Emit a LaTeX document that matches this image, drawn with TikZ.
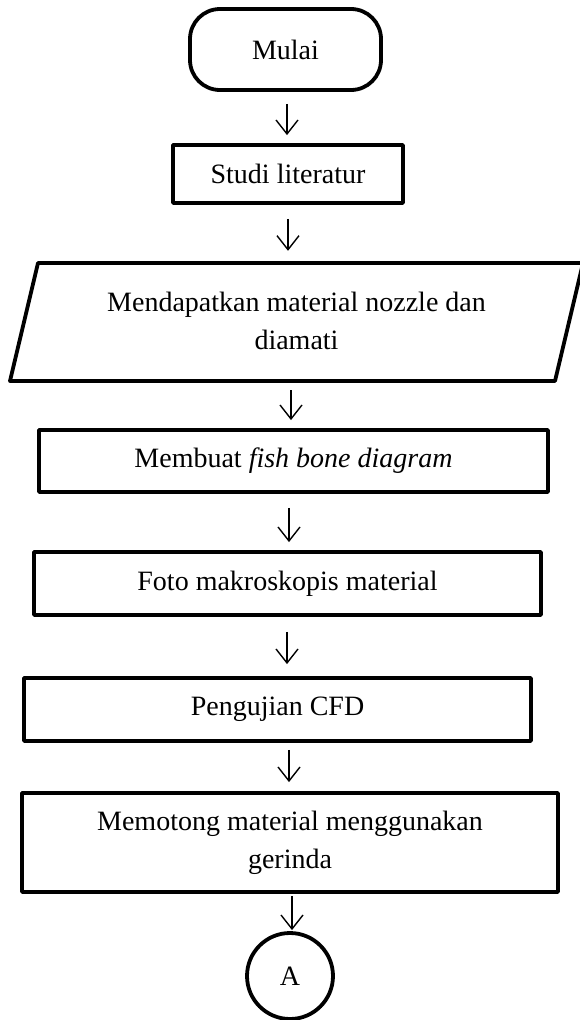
\documentclass[tikz,border=0pt]{standalone}
\usepackage{fontspec}
\setmainfont{Liberation Serif}
\usetikzlibrary{arrows.meta,calc,shapes.geometric}
\begin{document}
\begin{tikzpicture}[x=1pt,y=-1pt,
  box/.style={draw,line width=3.8pt,line join=round,inner sep=0pt,align=center,
    font=\fontsize{28}{38}\selectfont},
  arr/.style={line width=1.4pt,-{Straight Barb[length=14pt,width=22pt]}},
  txt/.style={inner sep=0pt,align=center,font=\fontsize{28}{38}\selectfont}]
\useasboundingbox (0,0) rectangle (580,1020);
\fill[white] (0,0) rectangle (580,1020);
% nodes
\node[box,rounded corners=30pt,minimum width=191pt,minimum height=81pt] (mulai) at (285.5,49.5) {Mulai};
\node[box,minimum width=230pt,minimum height=58pt] (studi) at (288,174) {Studi literatur};
\coordinate (p1) at (10,381);
\coordinate (p2) at (38,263);
\coordinate (p3) at (583,263);
\coordinate (p4) at (555,381);
\draw[line width=3.8pt,line join=round] (p1) -- (p2) -- (p3) -- (p4) -- cycle;
\node[txt,minimum width=545pt,minimum height=118pt] (para) at (296.5,321) {Mendapatkan material nozzle dan\\diamati};
\node[box,minimum width=509pt,minimum height=62pt] (membuat) at (293.5,461) {Membuat \textit{fish bone diagram}};
\node[box,minimum width=507pt,minimum height=63pt] (foto) at (287.5,583.5) {Foto makroskopis material};
\node[box,minimum width=507pt,minimum height=63pt] (peng) at (277.5,709.5) {Pengujian CFD};
\node[box,minimum width=536pt,minimum height=99pt] (memo) at (290,842.5) {Memotong material menggunakan\\gerinda};
\node[box,circle,minimum size=86pt] (A) at (290,976) {A};
% arrow columns
\coordinate (x1) at (287,0);
\coordinate (x2) at (288,0);
\coordinate (x3) at (291,0);
\coordinate (x4) at (289,0);
\coordinate (x5) at (287,0);
\coordinate (x6) at (289,0);
\coordinate (x7) at (292,0);
% connectors
\draw[arr] ($(mulai.south -| x1)+(0,12)$) -- ($(studi.north -| x1)+(0,-8)$);
\draw[arr] ($(studi.south -| x2)+(0,14)$) -- ($(para.north -| x2)+(0,-11)$);
\draw[arr] ($(para.south -| x3)+(0,10)$) -- ($(membuat.north -| x3)+(0,-8)$);
\draw[arr] ($(membuat.south -| x4)+(0,14)$) -- ($(foto.north -| x4)+(0,-8)$);
\draw[arr] ($(foto.south -| x5)+(0,15)$) -- ($(peng.north -| x5)+(0,-12)$);
\draw[arr] ($(peng.south -| x6)+(0,7)$) -- ($(memo.north -| x6)+(0,-9)$);
\draw[arr] ($(memo.south -| x7)+(0,2)$) -- ($(A.north -| x7)+(0,-1)$);
\end{tikzpicture}
\end{document}
